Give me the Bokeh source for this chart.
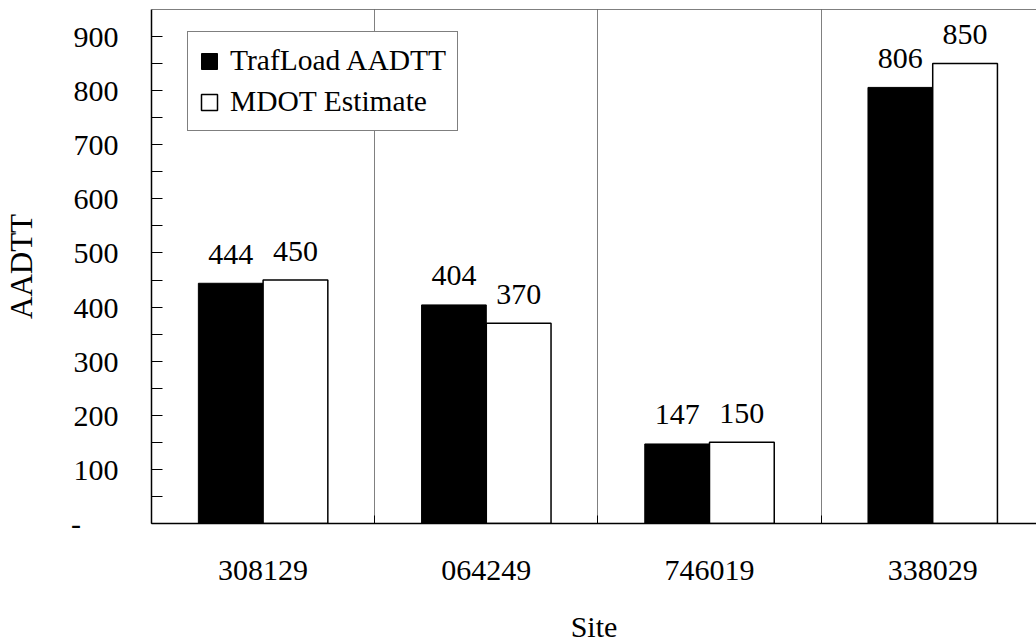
from bokeh.plotting import figure
from bokeh.models import (ColumnDataSource, FixedTicker, Range1d, Legend, LegendItem, Span)
from bokeh.transform import dodge
from bokeh.embed import file_html
from bokeh.resources import INLINE

# ---- data ----
sites = ["308129", "064249", "746019", "338029"]
trafload = [444, 404, 147, 806]
mdot = [450, 370, 150, 850]
series_names = ["TrafLoad AADTT", "MDOT Estimate"]
y_ticks = [0, 100, 200, 300, 400, 500, 600, 700, 800, 900]

FONT = "Liberation Serif"
pos = [i + 0.5 for i in range(len(sites))]
src = ColumnDataSource(dict(pos=pos, site=sites, traf=trafload, mdot=mdot,
                            traf_lbl=[str(v) for v in trafload],
                            mdot_lbl=[str(v) for v in mdot]))

p = figure(frame_width=885, frame_height=514, min_border_left=151, min_border_right=0,
           min_border_top=9, min_border_bottom=0,
           x_range=Range1d(0, 3.965), y_range=Range1d(0, 950),
           output_backend="svg", toolbar_location=None)
p.outline_line_color = None
p.background_fill_color = "white"
p.border_fill_color = "white"

off = 0.145
w = 0.29
r1 = p.vbar(x=dodge("pos", -off, range=p.x_range), top="traf", width=w, source=src,
            fill_color="black", line_color="black", line_width=1)
r2 = p.vbar(x=dodge("pos", off, range=p.x_range), top="mdot", width=w, source=src,
            fill_color="white", line_color="black", line_width=1.5)

for col, ycol, dx in (("traf_lbl", "traf", -off), ("mdot_lbl", "mdot", off)):
    p.text(x=dodge("pos", dx, range=p.x_range), y=ycol, text=col, source=src,
           text_align="center", text_baseline="alphabetic", y_offset=-29,
           text_font=FONT, text_font_size="30px", text_color="black")

# top border
p.add_layout(Span(location=950, dimension="width", line_color="black", line_width=1))

# x axis
xa = p.xaxis[0]
xa.ticker = FixedTicker(ticks=pos, minor_ticks=[0, 1, 2, 3, 4])
xa.major_label_overrides = {v: s for v, s in zip(pos, sites)}
xa.major_tick_in = 0
xa.major_tick_out = 0
xa.minor_tick_in = 8
xa.minor_tick_out = 0
xa.minor_tick_line_color = "black"
xa.axis_line_color = "black"
xa.axis_line_width = 1.5
xa.major_label_standoff = 37
xa.major_label_text_font = FONT
xa.major_label_text_font_size = "30px"
xa.major_label_text_color = "black"
xa.axis_label = "Site"
xa.axis_label_text_font = FONT
xa.axis_label_text_font_size = "30px"
xa.axis_label_text_font_style = "normal"
xa.axis_label_text_color = "black"
xa.axis_label_standoff = 27

# y axis
ya = p.yaxis[0]
ya.ticker = FixedTicker(ticks=y_ticks, minor_ticks=[50 + 100 * i for i in range(9)])
ya.major_label_overrides = {0: "-" + "\u00a0" * 5}
ya.major_tick_in = 11
ya.major_tick_out = 0
ya.minor_tick_in = 11
ya.minor_tick_out = 0
ya.major_tick_line_color = "black"
ya.minor_tick_line_color = "black"
ya.axis_line_color = "black"
ya.axis_line_width = 1.5
ya.major_label_standoff = 33
ya.major_label_text_font = FONT
ya.major_label_text_font_size = "30px"
ya.major_label_text_color = "black"
ya.axis_label = "AADTT"
ya.axis_label_text_font = FONT
ya.axis_label_text_font_size = "31px"
ya.axis_label_text_font_style = "normal"
ya.axis_label_text_color = "black"
ya.axis_label_standoff = 29

p.xgrid.ticker = FixedTicker(ticks=[1, 2, 3])
p.xgrid.grid_line_color = "#808080"
p.xgrid.grid_line_width = 1
p.ygrid.grid_line_color = None

legend = Legend(items=[LegendItem(label=series_names[0], renderers=[r1]),
                       LegendItem(label=series_names[1], renderers=[r2])],
                location=(36, 392), orientation="vertical",
                label_text_font=FONT, label_text_font_size="29.5px", label_text_color="black",
                glyph_width=20, glyph_height=20, label_standoff=11, label_height=35,
                padding=11, spacing=6, margin=0,
                border_line_color="black", border_line_width=1,
                background_fill_color="white", background_fill_alpha=1.0)
p.add_layout(legend)

open("out.html", "w").write(file_html(p, INLINE))
